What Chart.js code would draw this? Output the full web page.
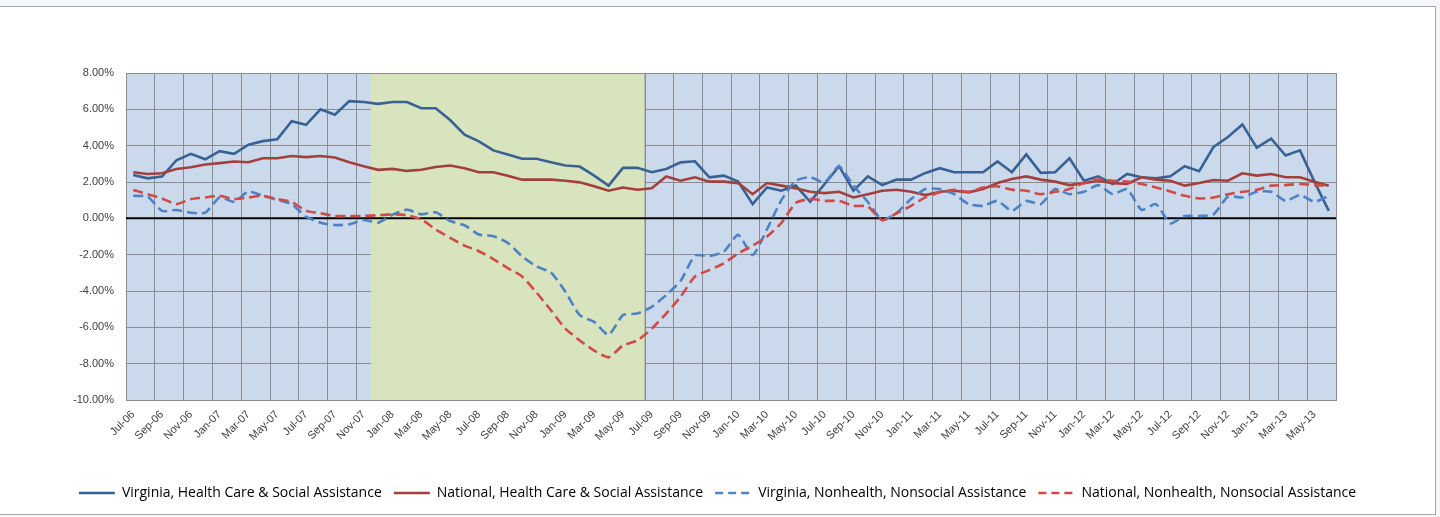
<!DOCTYPE html>
<html>
<head>
<meta charset="utf-8">
<script src="https://cdn.jsdelivr.net/npm/chart.js@4.4.1/dist/chart.umd.min.js"></script>
<style>
    body { margin: 0; background: #f4f6f9; }
    #wrap {
        position: absolute; left: 0; top: 6px;
        width: 1435px; height: 507px;
        background: #fff;
        border-top: 1px solid #a6a6a6;
        border-right: 1px solid #a6a6a6;
        border-bottom: 1px solid #a6a6a6;
    }
    canvas { display: block; }
</style>
</head>
<body>
<div id="wrap"><canvas id="chart" width="1435" height="507"></canvas></div>
<script>
// Monthly, Jul-06 .. Jun-13
const months = [
    'Jul-06','Aug-06','Sep-06','Oct-06','Nov-06','Dec-06',
    'Jan-07','Feb-07','Mar-07','Apr-07','May-07','Jun-07','Jul-07','Aug-07','Sep-07','Oct-07','Nov-07','Dec-07',
    'Jan-08','Feb-08','Mar-08','Apr-08','May-08','Jun-08','Jul-08','Aug-08','Sep-08','Oct-08','Nov-08','Dec-08',
    'Jan-09','Feb-09','Mar-09','Apr-09','May-09','Jun-09','Jul-09','Aug-09','Sep-09','Oct-09','Nov-09','Dec-09',
    'Jan-10','Feb-10','Mar-10','Apr-10','May-10','Jun-10','Jul-10','Aug-10','Sep-10','Oct-10','Nov-10','Dec-10',
    'Jan-11','Feb-11','Mar-11','Apr-11','May-11','Jun-11','Jul-11','Aug-11','Sep-11','Oct-11','Nov-11','Dec-11',
    'Jan-12','Feb-12','Mar-12','Apr-12','May-12','Jun-12','Jul-12','Aug-12','Sep-12','Oct-12','Nov-12','Dec-12',
    'Jan-13','Feb-13','Mar-13','Apr-13','May-13','Jun-13'
];

// Recession shading: Dec-07 through Jun-09
const recessionStart = 'Dec-07';
const recessionEnd = 'Jun-09';

const yTicks = [8, 6, 4, 2, 0, -2, -4, -6, -8, -10];

const virginiaHealth = [
    2.39, 2.20, 2.30, 3.20, 3.55, 3.25, 3.70, 3.55, 4.05, 4.25, 4.35, 5.35,
    5.15, 6.00, 5.70, 6.45, 6.40, 6.30, 6.40, 6.40, 6.06, 6.06, 5.41, 4.61,
    4.24, 3.74, 3.52, 3.28, 3.28, 3.09, 2.91, 2.85, 2.35, 1.80, 2.78, 2.78,
    2.54, 2.72, 3.08, 3.14, 2.26, 2.35, 2.02, 0.78, 1.70, 1.52, 1.80, 0.91,
    1.89, 2.87, 1.52, 2.31, 1.83, 2.13, 2.13, 2.50, 2.76, 2.54, 2.54, 2.54,
    3.13, 2.54, 3.52, 2.50, 2.54, 3.31, 2.07, 2.31, 1.89, 2.44, 2.26, 2.20,
    2.31, 2.87, 2.59, 3.93, 4.48, 5.17, 3.89, 4.39, 3.46, 3.74, 2.02, 0.41
];

const nationalHealth = [
    2.54, 2.44, 2.48, 2.72, 2.81, 2.96, 3.04, 3.13, 3.09, 3.31, 3.31, 3.43,
    3.37, 3.43, 3.35, 3.09, 2.87, 2.67, 2.72, 2.61, 2.67, 2.83, 2.91, 2.76,
    2.54, 2.54, 2.35, 2.13, 2.13, 2.13, 2.07, 1.98, 1.76, 1.52, 1.70, 1.57,
    1.65, 2.30, 2.07, 2.26, 2.02, 2.02, 1.94, 1.33, 1.94, 1.80, 1.65, 1.46,
    1.39, 1.46, 1.15, 1.33, 1.52, 1.57, 1.46, 1.28, 1.46, 1.52, 1.43, 1.61,
    1.94, 2.17, 2.31, 2.13, 2.02, 1.83, 1.94, 2.07, 1.94, 1.89, 2.26, 2.13,
    2.07, 1.80, 1.94, 2.11, 2.07, 2.48, 2.35, 2.44, 2.26, 2.26, 2.02, 1.80
];

const virginiaOther = [
    1.24, 1.19, 0.41, 0.46, 0.31, 0.31, 1.15, 0.91, 1.48, 1.24, 1.02, 0.78,
    0.09, -0.24, -0.37, -0.33, -0.09, -0.24, 0.20, 0.48, 0.22, 0.33, -0.15, -0.38,
    -0.89, -0.98, -1.35, -2.09, -2.65, -2.98, -4.04, -5.33, -5.70, -6.41, -5.33, -5.24,
    -4.87, -4.22, -3.45, -2.05, -2.07, -1.83, -0.91, -2.02, -0.60, 1.00, 2.07, 2.26,
    1.98, 2.87, 1.80, 0.90, -0.09, 0.31, 1.06, 1.61, 1.61, 1.33, 0.78, 0.69,
    0.96, 0.41, 0.96, 0.78, 1.61, 1.33, 1.46, 1.83, 1.33, 1.61, 0.46, 0.78,
    -0.28, 0.13, 0.13, 0.22, 1.20, 1.15, 1.46, 1.46, 0.96, 1.28, 0.91, 1.24
];

const nationalOther = [
    1.56, 1.33, 1.09, 0.78, 1.06, 1.15, 1.24, 1.06, 1.15, 1.24, 1.06, 0.91,
    0.41, 0.28, 0.13, 0.13, 0.13, 0.17, 0.22, 0.17, -0.06, -0.61, -1.07, -1.50,
    -1.81, -2.24, -2.74, -3.20, -4.09, -5.06, -6.07, -6.72, -7.28, -7.65, -7.00, -6.72,
    -6.07, -5.24, -4.32, -3.20, -2.85, -2.48, -1.93, -1.50, -1.00, -0.25, 0.85, 1.06,
    0.96, 0.96, 0.69, 0.65, -0.11, 0.28, 0.69, 1.15, 1.43, 1.57, 1.46, 1.70,
    1.76, 1.58, 1.52, 1.33, 1.46, 1.61, 1.94, 2.13, 2.07, 2.02, 1.89, 1.70,
    1.48, 1.24, 1.09, 1.15, 1.33, 1.46, 1.57, 1.80, 1.83, 1.89, 1.83, 1.80
];

const FONT = "'Liberation Sans', Arial, sans-serif";
const GRID = '#8c8c8c';

// plot background, recession band and zero line
const shading = {
    id: 'shading',
    beforeDraw(chart) {
        const { ctx, chartArea: a } = chart;
        ctx.save();
        ctx.fillStyle = '#cbd9ec';
        ctx.fillRect(a.left, a.top, a.right - a.left, a.bottom - a.top);
        ctx.restore();
    },
    beforeDatasetsDraw(chart) {
        const { ctx, chartArea: a, scales } = chart;
        const x = scales.x, y = scales.y;
        const half = (x.getPixelForValue(1) - x.getPixelForValue(0)) / 2;
        const x0 = x.getPixelForValue(months.indexOf(recessionStart)) - half;
        const x1 = x.getPixelForValue(months.indexOf(recessionEnd)) + half;
        ctx.save();
        ctx.fillStyle = '#d7e4bd';
        ctx.fillRect(x0, a.top, x1 - x0, a.bottom - a.top);
        ctx.strokeStyle = GRID;
        ctx.lineWidth = 1;
        ctx.beginPath();
        ctx.moveTo(Math.round(x1) + 0.5, a.top);
        ctx.lineTo(Math.round(x1) + 0.5, a.bottom);
        ctx.stroke();
        ctx.strokeRect(Math.round(a.left) + 0.5, Math.round(a.top) + 0.5,
            Math.round(a.right - a.left), Math.round(a.bottom - a.top));
        const zy = y.getPixelForValue(0);
        ctx.strokeStyle = '#000';
        ctx.lineWidth = 2;
        ctx.beginPath();
        ctx.moveTo(a.left, zy);
        ctx.lineTo(a.right, zy);
        ctx.stroke();
        ctx.restore();
    }
};

function series(label, data, color, dashed, order) {
    return {
        label: label,
        data: data,
        borderColor: color,
        backgroundColor: color,
        borderWidth: 2.6,
        borderDash: dashed ? [10, 5] : [],
        pointRadius: 0,
        tension: dashed ? 0.2 : 0,
        fill: false,
        order: order
    };
}

new Chart(document.getElementById('chart'), {
    type: 'line',
    data: {
        labels: months,
        datasets: [
            series('Virginia, Health Care & Social Assistance', virginiaHealth, '#386294', false, 4),
            series('National, Health Care & Social Assistance', nationalHealth, '#a3403d', false, 3),
            series('Virginia, Nonhealth, Nonsocial Assistance', virginiaOther, '#4f82c3', true, 2),
            series('National, Nonhealth, Nonsocial Assistance', nationalOther, '#d04b48', true, 1)
        ]
    },
    options: {
        responsive: false,
        animation: false,
        devicePixelRatio: 1,
        layout: { padding: { top: 66, left: 0, right: 0, bottom: 4 } },
        scales: {
            x: {
                offset: true,
                grid: {
                    offset: true,
                    drawTicks: false,
                    color: ctx => (ctx.index === undefined || ctx.index % 2 === 0) ? GRID : 'rgba(0,0,0,0)',
                    lineWidth: 1
                },
                border: { color: GRID },
                ticks: {
                    autoSkip: false,
                    maxRotation: 45,
                    minRotation: 45,
                    padding: 8,
                    color: '#404040',
                    font: { family: FONT, size: 11 },
                    callback: function (val, index) {
                        return index % 2 === 0 ? this.getLabelForValue(val) : '';
                    }
                },
                afterFit: scale => { scale.height = 74; }
            },
            y: {
                min: yTicks[yTicks.length - 1],
                max: yTicks[0],
                afterBuildTicks: scale => { scale.ticks = yTicks.map(v => ({ value: v })); },
                grid: { color: GRID, lineWidth: 1, drawTicks: false },
                border: { color: GRID },
                ticks: {
                    padding: 12,
                    color: '#404040',
                    font: { family: FONT, size: 11 },
                    callback: v => v.toFixed(2) + '%'
                },
                afterFit: scale => { scale.width = 126; }
            },
            y2: {
                position: 'right',
                display: true,
                grid: { display: false, drawTicks: false },
                border: { display: false },
                ticks: { display: false },
                afterFit: scale => { scale.width = 99; }
            }
        },
        plugins: {
            legend: {
                position: 'bottom',
                labels: {
                    usePointStyle: true,
                    pointStyleWidth: 36,
                    padding: 12,
                    color: '#1a1a1a',
                    font: { family: "'Open Sans', " + FONT, size: 14 },
                    generateLabels: chart => chart.data.datasets.map((ds, i) => ({
                        text: ds.label,
                        strokeStyle: ds.borderColor,
                        fillStyle: ds.borderColor,
                        lineWidth: 2.6,
                        lineDash: ds.borderDash.length ? [8, 5] : [],
                        pointStyle: 'line',
                        hidden: false,
                        datasetIndex: i
                    }))
                }
            },
            tooltip: { enabled: false }
        }
    },
    plugins: [shading]
});
</script>
</body>
</html>
